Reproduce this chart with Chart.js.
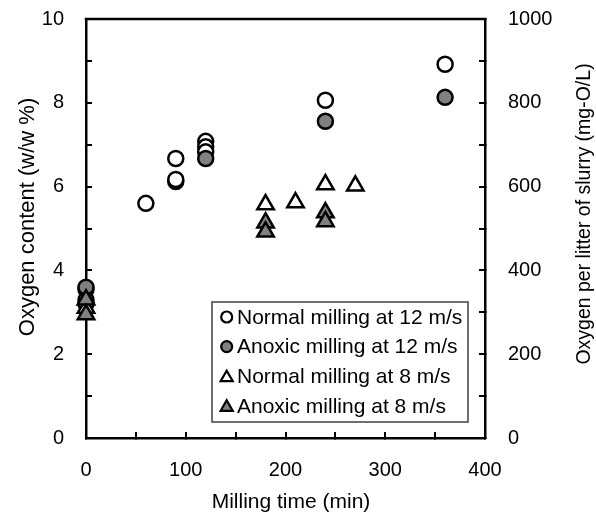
<!DOCTYPE html>
<html>
<head>
<meta charset="utf-8">
<script src="https://cdn.jsdelivr.net/npm/chart.js@4/dist/chart.umd.min.js"></script>
<style>
  html, body { margin: 0; padding: 0; background: #fff; }
  #wrap { width: 596px; height: 517px; }
</style>
</head>
<body>
<div id="wrap"><canvas id="oxChart" width="596" height="517"></canvas></div>
<script>
// --- Datos ---
const normal12Time = [0, 0, 60, 90, 90, 90, 120, 120, 120, 240, 360];
const normal12O    = [3.3, 3.2, 5.6, 6.67, 6.12, 6.17, 7.08, 6.95, 6.83, 8.06, 8.92];
const anoxic12Time = [0, 0, 120, 240, 360];
const anoxic12O    = [3.55, 3.6, 6.67, 7.56, 8.13];
const normal8Time  = [0, 180, 210, 240, 270];
const normal8O     = [3.1, 5.57, 5.62, 6.05, 6.02];
const anoxic8Time  = [0, 0, 180, 180, 240, 240];
const anoxic8O     = [3.3, 2.95, 5.14, 4.92, 5.38, 5.17];

const seriesNames = ['Normal milling at 12 m/s', 'Anoxic milling at 12 m/s',
                     'Normal milling at 8 m/s', 'Anoxic milling at 8 m/s'];
const xTicks  = [0, 100, 200, 300, 400];
const yTicks  = [0, 2, 4, 6, 8, 10];
const y2Ticks = [0, 200, 400, 600, 800, 1000];
const xTitle  = 'Milling time (min)';
const yTitle  = 'Oxygen content (w/w %)';
const y2Title = 'Oxygen per litter of slurry (mg-O/L)';

// --- Estilos ---
const FONT = '"Liberation Sans", Arial, sans-serif';
const GRAY = '#808080';
const INK = '#000';

const toPoints = (xs, ys) => xs.map((x, i) => ({ x: x, y: ys[i] }));

const makeSet = (label, xs, ys, style, fill, order) => ({
    label: label,
    data: toPoints(xs, ys),
    showLine: false,
    pointStyle: style,
    pointRadius: style === 'circle' ? 7.5 : 9.5,
    pointHoverRadius: style === 'circle' ? 7.5 : 9.5,
    pointBackgroundColor: fill,
    pointBorderColor: INK,
    pointBorderWidth: 2.5,
    order: order,
    clip: false
});

const legendStyles = [
    { style: 'circle', fill: '#fff' },
    { style: 'circle', fill: GRAY },
    { style: 'triangle', fill: '#fff' },
    { style: 'triangle', fill: GRAY }
];

const drawMarker = (ctx, style, fill, x, y, r, lw) => {
    ctx.beginPath();
    if (style === 'circle') {
        ctx.arc(x, y, r, 0, Math.PI * 2);
    } else {
        ctx.moveTo(x, y - r);
        ctx.lineTo(x + r * 0.866, y + r * 0.5);
        ctx.lineTo(x - r * 0.866, y + r * 0.5);
        ctx.closePath();
    }
    ctx.fillStyle = fill;
    ctx.fill();
    ctx.lineWidth = lw;
    ctx.strokeStyle = INK;
    ctx.stroke();
};

// Marco superior, títulos de ejes y leyenda dentro del gráfico
const extrasPlugin = {
    id: 'extras',
    beforeDatasetsDraw(chart) {
        const { ctx, chartArea } = chart;
        ctx.save();
        ctx.strokeStyle = INK;
        ctx.lineWidth = 2.5;
        ctx.beginPath();
        ctx.moveTo(chartArea.left - 1.25, chartArea.top);
        ctx.lineTo(chartArea.right + 1.25, chartArea.top);
        ctx.stroke();
        ctx.restore();
    },
    afterDraw(chart) {
        const { ctx, chartArea } = chart;
        ctx.save();
        ctx.fillStyle = INK;
        ctx.textAlign = 'center';
        ctx.textBaseline = 'middle';

        // título eje x
        ctx.font = '21px ' + FONT;
        ctx.fillText(xTitle, 291, 502);

        // títulos verticales (ambos leen de abajo hacia arriba)
        [[28, 217, 22, yTitle], [585, 214, 19.5, y2Title]].forEach(([x, y, size, txt]) => {
            ctx.save();
            ctx.font = size + 'px ' + FONT;
            ctx.translate(x, y);
            ctx.rotate(-Math.PI / 2);
            ctx.fillText(txt, 0, 0);
            ctx.restore();
        });

        // leyenda
        const bx = chartArea.left + 126, by = chartArea.top + 283;
        ctx.fillStyle = '#fff';
        ctx.fillRect(bx, by, 256, 120);
        ctx.strokeStyle = '#404040';
        ctx.lineWidth = 1.5;
        ctx.strokeRect(bx, by, 256, 120);
        ctx.font = '21px ' + FONT;
        ctx.textAlign = 'left';
        seriesNames.forEach((name, i) => {
            const cy = by + 15 + i * 29.6;
            const s = legendStyles[i];
            drawMarker(ctx, s.style, s.fill, bx + 14.7, s.style === 'circle' ? cy : cy + 1.5,
                       s.style === 'circle' ? 5.5 : 7, 2.2);
            ctx.fillStyle = INK;
            ctx.fillText(name, bx + 25, cy + 1);
        });
        ctx.restore();
    }
};

const tickFont = { size: 20, family: FONT };

// quitar el relleno automático que Chart.js añade por las etiquetas
const noPad = s => { s.paddingTop = 0; s.paddingBottom = 0; s.paddingLeft = 0; s.paddingRight = 0; };

new Chart(document.getElementById('oxChart'), {
    type: 'scatter',
    data: {
        datasets: [
            makeSet(seriesNames[0], normal12Time, normal12O, 'circle', '#fff', 4),
            makeSet(seriesNames[1], anoxic12Time, anoxic12O, 'circle', GRAY, 3),
            makeSet(seriesNames[2], normal8Time, normal8O, 'triangle', '#fff', 2),
            makeSet(seriesNames[3], anoxic8Time, anoxic8O, 'triangle', GRAY, 1)
        ]
    },
    options: {
        responsive: false,
        animation: false,
        layout: { padding: { top: 19, left: 0, right: 0, bottom: 0 } },
        plugins: {
            legend: { display: false },
            title: { display: false },
            tooltip: { enabled: false }
        },
        scales: {
            x: {
                type: 'linear',
                position: 'bottom',
                min: 0, max: 400,
                ticks: {
                    stepSize: 50, autoSkip: false, maxRotation: 0,
                    callback: v => xTicks.includes(v) ? v : '',
                    padding: 26.5, color: INK, font: tickFont
                },
                grid: { drawOnChartArea: false, tickLength: -6, color: INK, lineWidth: 2 },
                border: { color: INK, width: 2.5 },
                afterFit: s => { s.height = 79; noPad(s); }
            },
            y: {
                type: 'linear',
                position: 'left',
                min: 0, max: 10,
                ticks: {
                    stepSize: 1, autoSkip: false,
                    callback: v => yTicks.includes(v) ? v : '',
                    padding: 28, color: INK, font: tickFont
                },
                grid: { drawOnChartArea: false, tickLength: -6, color: INK, lineWidth: 2 },
                border: { color: INK, width: 2.5 },
                afterFit: s => { s.width = 86; noPad(s); }
            },
            y2: {
                type: 'linear',
                position: 'right',
                min: 0, max: 1000,
                ticks: {
                    stepSize: 100, autoSkip: false,
                    callback: v => y2Ticks.includes(v) ? v : '',
                    padding: 29, color: INK, font: tickFont
                },
                grid: { drawOnChartArea: false, tickLength: -6, color: INK, lineWidth: 2 },
                border: { color: INK, width: 2.5 },
                afterFit: s => { s.width = 111; noPad(s); }
            }
        }
    },
    plugins: [extrasPlugin]
});
</script>
</body>
</html>
